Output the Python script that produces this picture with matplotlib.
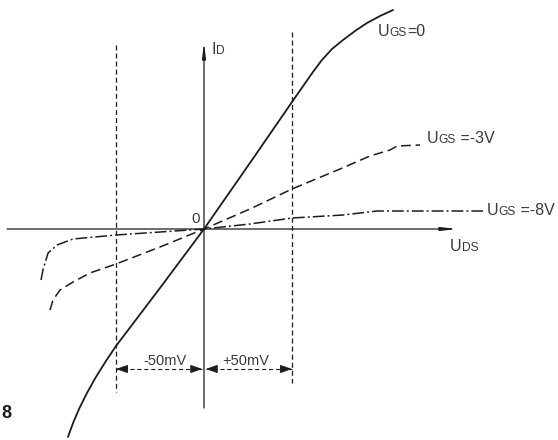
import numpy as np
import matplotlib.pyplot as plt

plt.rcParams['font.family'] = ['Liberation Sans', 'DejaVu Sans']
plt.rcParams['lines.scale_dashes'] = False

# drain-source voltage (mV) and drain current (arbitrary units)
uds_0 = [-77.3, -74.4, -71.0, -66.5, -61.4, -55.7, -50.0, -25.0, 0.0, 26.1, 50.0,
         61.9, 67.0, 72.7, 79.0, 85.8, 92.6, 100.0, 107.4]
id_0 = [-2.08, -1.94, -1.80, -1.64, -1.48, -1.32, -1.17, -0.59, 0.0, 0.66, 1.27,
        1.57, 1.69, 1.80, 1.89, 1.98, 2.06, 2.13, 2.19]

uds_3 = [-87.5, -85.8, -81.8, -74.4, -64.8, -50.0, -25.0, 0.0, 26.1, 50.0,
         77.3, 94.3, 105.7, 109.7, 122.7]
id_3 = [-0.81, -0.71, -0.61, -0.53, -0.44, -0.35, -0.18, 0.0, 0.20, 0.40,
        0.60, 0.73, 0.79, 0.83, 0.84]

uds_8 = [-92.6, -91.5, -90.3, -88.6, -83.5, -74.4, -50.0, -25.0, 0.0, 26.1,
         50.0, 79.0, 98.3, 122.7, 158.5]
id_8 = [-0.51, -0.41, -0.34, -0.24, -0.16, -0.10, -0.06, -0.03, 0.0, 0.05,
        0.11, 0.14, 0.18, 0.18, 0.18]

window_mv = 50
dim_labels = ['-50mV', '+50mV']

ink = '#1c1c1c'
txt = '#3a3a3a'

fig = plt.figure(figsize=(5.58, 4.40), dpi=100)
ax = fig.add_axes([0, 0, 1, 1])
ax.set_xlim(-204 * 50 / 88, 354 * 50 / 88)
ax.set_ylim(-2.11, 2.29)
ax.axis('off')

# axes with thin arrow heads
axis_arrow = dict(arrowstyle='-|>,head_length=1.3,head_width=0.15',
                  mutation_scale=7, lw=0.9, color=ink, shrinkA=0, shrinkB=0)
ax.annotate('', xy=(143.8, 0), xytext=(-111.9, 0), arrowprops=axis_arrow)
ax.annotate('', xy=(0, 1.87), xytext=(0, -1.79), arrowprops=axis_arrow)

# +-50 mV guide lines
ax.plot([-window_mv, -window_mv], [1.84, -1.63], color=ink, lw=0.9,
        dashes=(3.6, 2.2))
ax.plot([window_mv, window_mv], [1.97, -1.54], color=ink, lw=0.9,
        dashes=(3.6, 2.2))

# characteristic curves
ax.plot(uds_0, id_0, color=ink, lw=1.3, solid_capstyle='round',
        solid_joinstyle='round')
ax.plot(uds_3, id_3, color=ink, lw=1.1, dashes=(7, 3.5))
ax.plot(uds_8, id_8, color=ink, lw=1.1, dashes=(8.5, 2.2, 1.4, 2.2))

# dimension arrows
ydim = -1.40
head = dict(arrowstyle='-|>,head_length=1.0,head_width=0.35',
            mutation_scale=7, lw=0.8, color=ink, shrinkA=0, shrinkB=0)
ax.plot([-window_mv, -1], [ydim, ydim], color=ink, lw=0.8, dashes=(3, 2))
ax.plot([1, window_mv], [ydim, ydim], color=ink, lw=0.8, dashes=(3, 2))
for tip, d in [(-window_mv, 1), (-1, -1), (1, 1), (window_mv, -1)]:
    ax.annotate('', xy=(tip, ydim), xytext=(tip + d * 2, ydim), arrowprops=head)

ax.text(-34.7, -1.36, dim_labels[0], fontsize=10.5, color=txt, va='baseline')
ax.text(10.2, -1.36, dim_labels[1], fontsize=10.5, color=txt, va='baseline')


def sub_label(x, y, main, sub, rest='', size=11.5):
    t = ax.text(x, y, main, fontsize=size, color=txt, va='baseline')
    t2 = ax.annotate(sub, xy=(1, 0), xycoords=t, fontsize=size * 0.75,
                     color=txt, va='bottom')
    if rest:
        ax.annotate(rest, xy=(1, 0), xycoords=t2, fontsize=size,
                    color=txt, va='bottom')


sub_label(98.9, 1.93, 'U', 'GS', '=0')
sub_label(126.7, 0.86, 'U', 'GS', ' =-3V')
sub_label(160.8, 0.14, 'U', 'GS', ' =-8V')
sub_label(4.5, 1.75, 'I', 'D')
sub_label(139.8, -0.22, 'U', 'DS')
ax.text(-7.4, 0.06, '0', fontsize=11, color=txt, va='baseline')
ax.text(-115.0, -1.89, '8', fontsize=13, fontweight='bold', color=ink,
        ha='left', va='baseline')

fig.savefig('out.png', dpi=100, facecolor='white')
